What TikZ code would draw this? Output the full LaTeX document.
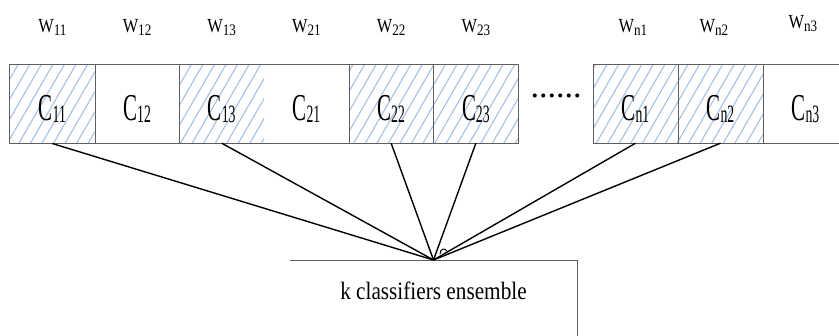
\documentclass[tikz,border=0pt]{standalone}
\usepackage{fontspec}
\setmainfont{Liberation Serif}
\newfontfamily\cellfont[FakeStretch=0.55]{Liberation Serif}
\newfontfamily\wfont[FakeStretch=0.82]{Liberation Serif}
\newfontfamily\ensfont[FakeStretch=0.85]{Liberation Serif}
\usetikzlibrary{patterns.meta}

\definecolor{hatchblue}{RGB}{165,192,228}
\definecolor{cellgray}{RGB}{95,95,95}

% cell label C_{ij} and weight label W_{ij}
\newcommand{\clab}[1]{{\fontsize{38}{38}\selectfont C}\raisebox{-2pt}{\fontsize{25}{25}\selectfont #1}}
\newcommand{\wlab}[1]{{\fontsize{20}{20}\selectfont W}\raisebox{-3pt}{\fontsize{16}{16}\selectfont #1}}

\begin{document}
\begin{tikzpicture}[x=1pt,y=-1pt,
  cellbox/.style={minimum width=84.7pt,minimum height=78pt,inner sep=0pt,
    text height=34pt,text depth=0pt,font=\cellfont},
  hatched/.style={pattern={Lines[angle=60,distance=10pt,line width=1.1pt]},
    pattern color=hatchblue},
  weight/.style={anchor=base,inner sep=0pt,font=\wfont},
  frame/.style={draw=cellgray,line width=0.9pt},
  conn/.style={draw=black,line width=1.4pt},
]
\useasboundingbox (0,0) rectangle (839,336);
\coordinate (pagebottom) at (0,336);

% first group of classifier cells
\node[cellbox,hatched] (c11) at (52.35,104)  {\clab{11}};
\node[cellbox]         (c12) at (137.05,104) {\clab{12}};
\node[cellbox,hatched] (c13) at (221.75,104) {\clab{13}};
\node[cellbox]         (c21) at (306.45,104) {\clab{21}};
\node[cellbox,hatched] (c22) at (391.15,104) {\clab{22}};
\node[cellbox,hatched] (c23) at (475.85,104) {\clab{23}};

% last group of classifier cells
\node[cellbox,hatched] (cn1) at (635.5,104) {\clab{n1}};
\node[cellbox,hatched] (cn2) at (720.5,104) {\clab{n2}};
\node[cellbox]         (cn3) at (805.5,104) {\clab{n3}};

% frames and dividers
\draw[frame] (c11.north west) rectangle (c23.south east);
\foreach \c in {c11,c12,c21,c22}
  \draw[frame] (\c.north east) -- (\c.south east);
\draw[frame] (cn1.north west) rectangle (cn3.south east);
\foreach \c in {cn1,cn2}
  \draw[frame] (\c.north east) -- (\c.south east);

% ellipsis between the groups
\node[inner sep=0pt,font=\fontsize{34}{34}\selectfont] (dots) at (556,96) {......};

% weights above the cells
\node[weight] (w11) at (52.35,33)  {\wlab{11}};
\node[weight] (w12) at (137.05,33) {\wlab{12}};
\node[weight] (w13) at (221.75,33) {\wlab{13}};
\node[weight] (w21) at (306.45,33) {\wlab{21}};
\node[weight] (w22) at (391.15,33) {\wlab{22}};
\node[weight] (w23) at (475.85,33) {\wlab{23}};
\node[weight] (wn1) at (633,33)    {\wlab{n1}};
\node[weight] (wn2) at (714,33)    {\wlab{n2}};
\node[weight] (wn3) at (803,29)    {\wlab{n3}};

% ensemble box (top and right edges shown)
\node[anchor=north,minimum width=287pt,minimum height=60pt,inner sep=0pt,
  text height=18pt,text depth=0pt,font=\ensfont\fontsize{25}{25}\selectfont]
  (ens) at (433.5,260) {k classifiers ensemble};
\draw[frame] (ens.north west) -- (ens.north east) -- (ens.north east |- pagebottom);

% connectors from the selected classifiers
\foreach \c in {c11,c13,c22,c23,cn1,cn2}
  \draw[conn] (\c.south) -- (ens.north);

% small angle mark at the apex
\draw[line width=1pt] ([shift={(6.5,-6)}]ens.north) .. controls ([shift={(6.5,-12)}]ens.north) and ([shift={(12,-12)}]ens.north) .. ([shift={(13.5,-9)}]ens.north);
\end{tikzpicture}
\end{document}
